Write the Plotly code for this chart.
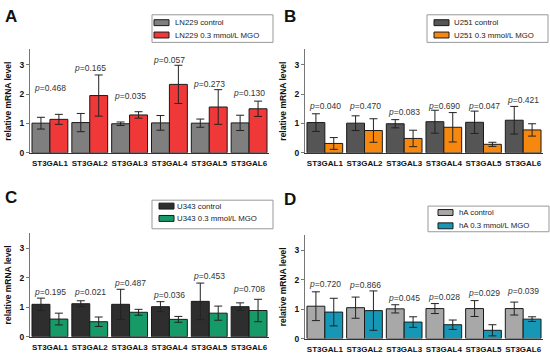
import plotly.graph_objects as go

genes = ["ST3GAL1", "ST3GAL2", "ST3GAL3", "ST3GAL4", "ST3GAL5", "ST3GAL6"]

# Panel A - LN229
A_ctrl = [1.01, 1.03, 0.99, 1.02, 1.01, 1.02]
A_ctrl_err = [0.20, 0.31, 0.06, 0.25, 0.14, 0.26]
A_mgo = [1.14, 1.95, 1.29, 2.33, 1.56, 1.50]
A_mgo_err = [0.17, 0.70, 0.11, 0.65, 0.59, 0.26]
A_p = ["0.468", "0.165", "0.035", "0.057", "0.273", "0.130"]
A_p_y = [2.22, 2.89, 1.93, 3.17, 2.33, 2.04]

# Panel B - U251
B_ctrl = [1.03, 1.01, 0.99, 1.06, 1.04, 1.11]
B_ctrl_err = [0.30, 0.25, 0.14, 0.39, 0.38, 0.47]
B_mgo = [0.32, 0.76, 0.49, 0.87, 0.29, 0.78]
B_mgo_err = [0.20, 0.40, 0.28, 0.50, 0.07, 0.21]
B_p = ["0.040", "0.470", "0.083", "0.690", "0.047", "0.421"]
B_p_y = [1.61, 1.61, 1.40, 1.61, 1.61, 1.79]

# Panel C - U343
C_ctrl = [1.10, 1.12, 1.10, 1.02, 1.20, 1.02]
C_ctrl_err = [0.21, 0.10, 0.51, 0.17, 0.62, 0.13]
C_mgo = [0.60, 0.51, 0.83, 0.59, 0.80, 0.89]
C_mgo_err = [0.20, 0.16, 0.10, 0.10, 0.24, 0.38]
C_p = ["0.195", "0.021", "0.487", "0.036", "0.453", "0.708"]
C_p_y = [1.51, 1.51, 1.82, 1.42, 2.06, 1.61]

# Panel D - hA
D_ctrl = [1.10, 1.05, 1.01, 1.02, 1.02, 1.02]
D_ctrl_err = [0.49, 0.36, 0.14, 0.17, 0.27, 0.22]
D_mgo = [0.90, 0.95, 0.56, 0.47, 0.28, 0.66]
D_mgo_err = [0.47, 0.67, 0.18, 0.16, 0.19, 0.08]
D_p = ["0.720", "0.866", "0.045", "0.028", "0.029", "0.039"]
D_p_y = [1.87, 1.81, 1.37, 1.40, 1.56, 1.62]

panel_letters = ["A", "B", "C", "D"]
ctrl_names = ["LN229 control", "U251 control", "U343 control", "hA control"]
mgo_names = ["LN229 0.3 mmol/L MGO", "U251 0.3 mmol/L MGO",
             "U343 0.3 mmol/L MGO", "hA 0.3 mmol/L MGO"]

W, H = 550, 360
FONT = "Liberation Sans, Arial, sans-serif"

panels = [
    dict(ctrl=A_ctrl, ce=A_ctrl_err, mgo=A_mgo, me=A_mgo_err, p=A_p, py=A_p_y,
         cc="#7f7f7f", mc="#f03838", x0=30, x1=269, y0=155, unit=29.8,
         leg=(152, 273, 15, 43), sw=154, tx=173, ly=(23, 35.5), let=(3, 17)),
    dict(ctrl=B_ctrl, ce=B_ctrl_err, mgo=B_mgo, me=B_mgo_err, p=B_p, py=B_p_y,
         cc="#555555", mc="#f7880f", x0=305, x1=543, y0=155, unit=29.8,
         leg=(427, 548, 15, 43), sw=434, tx=452, ly=(23, 35.5), let=(282, 17)),
    dict(ctrl=C_ctrl, ce=C_ctrl_err, mgo=C_mgo, me=C_mgo_err, p=C_p, py=C_p_y,
         cc="#2e2e2e", mc="#169b68", x0=30, x1=269, y0=341.5, unit=29.9,
         leg=(152, 273, 203, 232), sw=159, tx=175, ly=(209, 221.5), let=(3, 200)),
    dict(ctrl=D_ctrl, ce=D_ctrl_err, mgo=D_mgo, me=D_mgo_err, p=D_p, py=D_p_y,
         cc="#a8a8a8", mc="#1597b5", x0=305, x1=543, y0=343.3, unit=29.8,
         leg=(428, 549, 209, 235), sw=438, tx=457, ly=(215.5, 229), let=(282, 202)),
]

YMAX = 3.52
fig = go.Figure()
annotations = []
shapes = []
layout_axes = {}

for i, pn in enumerate(panels):
    k = "" if i == 0 else str(i + 1)
    xa, ya = "x" + k, "y" + k
    fig.add_trace(go.Bar(
        x=genes, y=pn["ctrl"], name=ctrl_names[i], xaxis=xa, yaxis=ya,
        marker=dict(color=pn["cc"], line=dict(color="#1a1a1a", width=1)),
        error_y=dict(type="data", array=pn["ce"], color="#222222", thickness=1, width=4),
        offsetgroup="c", showlegend=False))
    fig.add_trace(go.Bar(
        x=genes, y=pn["mgo"], name=mgo_names[i], xaxis=xa, yaxis=ya,
        marker=dict(color=pn["mc"], line=dict(color="#1a1a1a", width=1)),
        error_y=dict(type="data", array=pn["me"], color="#222222", thickness=1, width=4),
        offsetgroup="m", showlegend=False))

    ytop_px = pn["y0"] - YMAX * pn["unit"]
    layout_axes["xaxis" + k] = dict(
        domain=[pn["x0"] / W, pn["x1"] / W], anchor=ya,
        type="category", range=[-0.5, 5.5],
        showline=True, linecolor="#333333", linewidth=1, ticks="",
        ticklabelstandoff=3,
        tickfont=dict(family=FONT, size=8, color="#111111", weight="bold"),
        showgrid=False, zeroline=False, fixedrange=True)
    layout_axes["yaxis" + k] = dict(
        domain=[1 - pn["y0"] / H, 1 - ytop_px / H], anchor=xa,
        range=[0, YMAX], tickvals=[0, 1, 2, 3],
        showline=True, linecolor="#777777", linewidth=1,
        ticks="outside", ticklen=3, tickcolor="#777777",
        tickfont=dict(family=FONT, size=8.5, color="#111111", weight="bold"),
        title=dict(text="relative mRNA level", standoff=6,
                   font=dict(family=FONT, size=8.5, color="#111111", weight="bold")),
        showgrid=False, zeroline=False, fixedrange=True)

    # p-value labels
    for g, pv, yv in zip(genes, pn["p"], pn["py"]):
        annotations.append(dict(
            x=g, y=yv, xref=xa, yref=ya, text="<i>p</i>=" + pv,
            showarrow=False, yanchor="middle", xanchor="center",
            font=dict(family=FONT, size=8.5, color="#333333")))

    # panel letter
    lx, lyy = pn["let"]
    annotations.append(dict(
        x=lx / W, y=1 - lyy / H, xref="paper", yref="paper",
        text="<b>" + panel_letters[i] + "</b>", showarrow=False,
        xanchor="left", yanchor="middle",
        font=dict(family=FONT, size=17, color="#111111")))

    # legend box
    bx0, bx1, by0, by1 = pn["leg"]
    shapes.append(dict(type="rect", xref="paper", yref="paper",
                       x0=bx0 / W, x1=bx1 / W, y0=1 - by1 / H, y1=1 - by0 / H,
                       line=dict(color="#999999", width=1), fillcolor="white"))
    for col, yc, nm in [(pn["cc"], pn["ly"][0], ctrl_names[i]),
                        (pn["mc"], pn["ly"][1], mgo_names[i])]:
        shapes.append(dict(type="rect", xref="paper", yref="paper",
                           x0=pn["sw"] / W, x1=(pn["sw"] + 15) / W,
                           y0=1 - (yc + 3) / H, y1=1 - (yc - 3) / H,
                           line=dict(color="#1a1a1a", width=1), fillcolor=col))
        annotations.append(dict(
            x=pn["tx"] / W, y=1 - yc / H, xref="paper", yref="paper",
            text=nm, showarrow=False, xanchor="left", yanchor="middle",
            font=dict(family=FONT, size=7.8, color="#222222")))

fig.update_layout(
    width=W, height=H, margin=dict(l=0, r=0, t=0, b=0),
    paper_bgcolor="white", plot_bgcolor="white",
    barmode="group", bargap=0.1, bargroupgap=0,
    showlegend=False, annotations=annotations, shapes=shapes,
    font=dict(family=FONT), **layout_axes)

fig.write_html("out.html", config={"displayModeBar": False},
               post_script="document.body.style.margin='0';document.body.style.overflow='hidden';")
